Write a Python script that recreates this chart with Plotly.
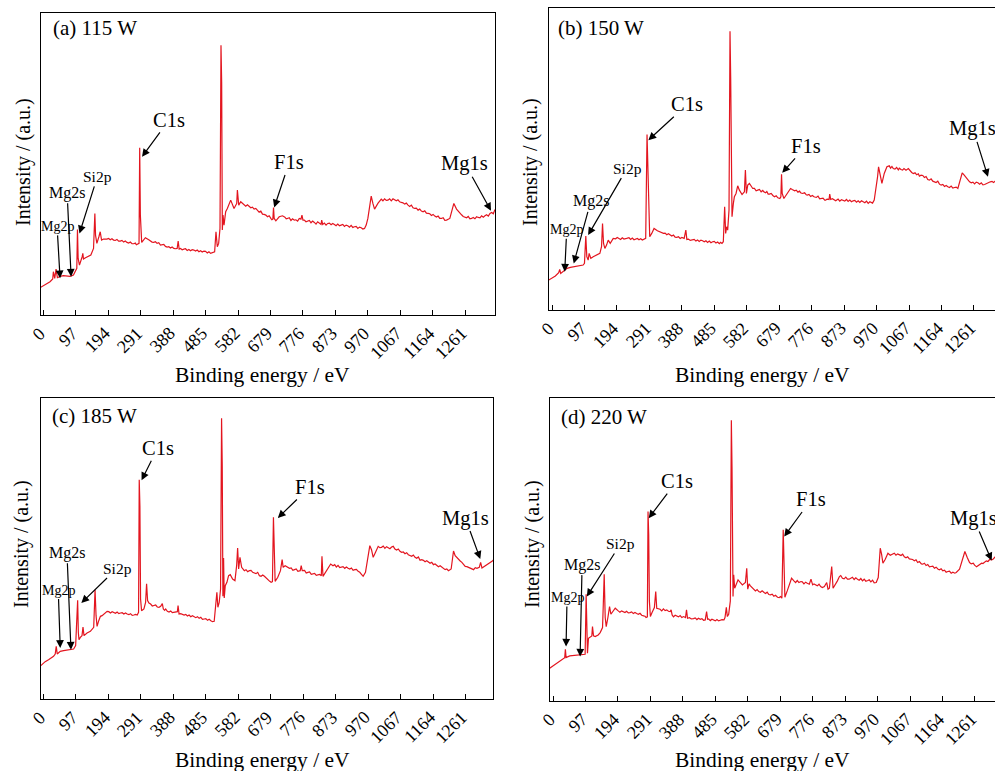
import plotly.graph_objects as go

W, H = 995, 771
FONT = "Liberation Serif, Times New Roman, DejaVu Serif, serif"
RED = "#e3151f"

tick_vals = [0, 97, 194, 291, 388, 485, 582, 679, 776, 873, 970, 1067, 1164, 1261]
tick_text = [str(v) for v in tick_vals]

# ---------------- (a) 115 W : peaks / main features ----------------
ev_a = [-8, 0, 10, 20, 28, 30, 34, 38, 42, 50, 60, 70, 80, 90, 96, 100, 102, 104, 108, 112, 116, 118, 120,
        126, 134, 142, 150, 154, 156, 160, 166, 170, 174, 180, 190, 210, 230, 250, 270, 282, 286, 288, 290,
        294, 300, 305, 315, 330, 350, 370, 390, 400, 403, 406, 420, 450, 480, 505, 512, 516, 520, 524, 528,
        531, 533, 535, 537, 540, 545, 550, 560, 570, 578, 580, 584, 590, 600, 620, 640, 660, 680, 686, 688,
        690, 695, 705, 715, 730, 750, 770, 773, 776, 790, 810, 830, 832, 835, 850, 870, 890, 910, 930, 950,
        960, 965, 970, 975, 980, 985, 990, 1000, 1010, 1030, 1050, 1070, 1090, 1110, 1130, 1150, 1170, 1190,
        1205, 1215, 1222, 1227, 1235, 1245, 1260, 1280, 1300, 1320, 1335, 1350]
int_a = [83, 88, 92, 100, 108, 130, 110, 138, 112, 116, 118, 117, 116, 120, 130, 140, 257, 170, 150, 160, 175, 185, 168,
         172, 175, 180, 200, 305, 240, 215, 235, 250, 225, 228, 228, 225, 222, 218, 214, 212, 215, 502, 300,
         218, 225, 232, 226, 218, 210, 204, 200, 200, 222, 198, 198, 195, 192, 188, 190, 250, 205, 215, 260,
         810, 700, 255, 300, 270, 310, 320, 345, 320, 335, 375, 330, 340, 330, 322, 313, 302, 290, 288, 323,
         290, 283, 295, 298, 290, 285, 288, 300, 285, 282, 278, 272, 285, 272, 275, 272, 270, 268, 265, 262,
         260, 270, 290, 320, 357, 335, 318, 335, 348, 345, 347, 338, 330, 320, 312, 305, 297, 290,
         285, 290, 320, 335, 318, 305, 295, 290, 293, 298, 305, 317]
# (a) baseline fine structure
ev_a_fine = [195, 200, 205, 215, 220, 225, 235, 240, 245, 255, 260, 265, 275, 278,
             320, 325, 335, 340, 345, 355, 360, 365, 375, 380, 385, 395, 410, 415, 425, 430, 435, 440, 445, 455,
             460, 465, 470, 475, 485, 490, 495, 500, 508,
             605, 610, 615, 625, 630, 635, 645, 650, 655, 665, 670, 675, 683,
             722, 726, 735, 740, 745, 755, 760, 765, 780, 785, 795, 800, 805, 815, 820, 825, 840, 845, 855, 860,
             865, 875, 880, 885, 895, 900, 905, 915, 920, 925, 935, 940, 945, 955,
             1015, 1020, 1025, 1035, 1040, 1045, 1055, 1060, 1065, 1075, 1080, 1085, 1095, 1100, 1105, 1115, 1120,
             1125, 1135, 1140, 1145, 1155, 1160, 1165, 1175, 1180, 1185, 1195, 1200,
             1250, 1255, 1265, 1270, 1275, 1285, 1290, 1295, 1305, 1310, 1315, 1325, 1330, 1340, 1345]
int_a_fine = [230, 226, 229, 224, 227, 222, 224, 219, 222, 216, 219, 214, 216, 211,
              222, 219, 220, 215, 217, 210, 212, 206, 205, 201, 204, 199, 200, 196, 199, 194, 197, 193, 196, 192,
              195, 190, 193, 189, 191, 186, 190, 185, 188,
              327, 331, 325, 324, 318, 320, 309, 312, 303, 300, 295, 298, 286,
              294, 289, 292, 284, 289, 286, 282, 290, 285, 280, 284, 277, 282, 273, 280, 275, 276, 270, 276, 271,
              275, 268, 273, 268, 272, 266, 270, 264, 269, 263, 266, 260, 264, 258,
              343, 349, 344, 349, 343, 349, 343, 346, 340, 337, 333, 336, 326, 330, 322, 321, 315,
              318, 310, 313, 306, 304, 299, 302, 294, 297, 290, 292, 284,
              301, 296, 292, 296, 289, 293, 289, 295, 292, 298, 294, 301, 297, 308, 304]

# ---------------- (b) 150 W ----------------
ev_b = [-10, 0, 10, 20, 23, 26, 35, 45, 55, 68, 80, 93, 97, 101, 104, 108, 111, 116, 123, 135, 143, 148, 151, 154,
        158, 163, 168, 174, 183, 200, 223, 250, 273, 280, 284, 286, 288, 292, 298, 305, 315, 333, 353, 373, 395,
        400, 403, 420, 450, 480, 508, 512, 516, 519, 522, 525, 529, 532, 534, 536, 538, 542, 545, 550, 555, 560,
        568, 575, 578, 581, 585, 590, 600, 615, 633, 650, 665, 681, 684, 686, 688, 693, 700, 713, 725, 743, 763,
        783, 805, 818, 828, 830, 833, 843, 870, 900, 930, 953, 963, 968, 973, 976, 980, 986, 993, 1001, 1020,
        1043, 1058, 1065, 1080, 1103, 1123, 1143, 1163, 1183, 1203, 1213, 1220, 1226, 1232, 1243, 1253, 1273,
        1293, 1310, 1328]
int_b = [90, 95, 102, 112, 122, 110, 118, 125, 128, 130, 133, 135, 140, 222, 160, 150, 170, 155, 160, 165, 170, 190, 260, 200,
         185, 195, 210, 200, 215, 215, 215, 213, 212, 215, 527, 440, 300, 220, 230, 245, 238, 230, 224, 218, 215,
         240, 212, 210, 208, 205, 200, 205, 310, 230, 250, 240, 300, 837, 700, 300, 280, 320, 340, 350, 373, 360,
         347, 355, 420, 350, 375, 380, 365, 360, 355, 348, 340, 335, 340, 408, 350, 335, 345, 365, 358, 352, 345,
         340, 335, 330, 332, 348, 332, 330, 330, 328, 325, 323, 330, 360, 400, 430, 405, 380, 410, 430, 425,
         422, 420, 425, 410, 405, 392, 385, 375, 370, 368, 365, 390, 412, 405, 390, 382, 382,
         377, 385, 390]
ev_b_fine = [190, 195, 205, 210, 215, 230, 235, 240, 245, 255, 260, 265, 270, 277,
             320, 325, 338, 343, 348, 358, 363, 368, 378, 383, 388, 408, 413, 425, 430, 435, 440, 445, 455, 460,
             465, 470, 475, 485, 490, 495, 500, 504,
             605, 610, 620, 625, 630, 638, 642, 646, 655, 660, 670, 675,
             718, 730, 735, 740, 748, 755, 760, 768, 773, 778, 790, 795, 800, 810, 815, 822, 838, 848, 855, 860,
             865, 875, 880, 885, 890, 895, 905, 910, 915, 920, 925, 935, 940, 945, 950, 958,
             1008, 1012, 1016, 1025, 1030, 1035, 1038, 1048, 1052, 1070, 1075, 1085, 1090, 1095, 1098, 1108, 1113,
             1118, 1128, 1133, 1138, 1148, 1153, 1158, 1168, 1173, 1178, 1188, 1193, 1198, 1208,
             1248, 1258, 1263, 1268, 1278, 1283, 1288, 1298, 1303, 1315, 1320]
int_b_fine = [214, 218, 212, 217, 213, 217, 212, 216, 211, 215, 211, 214, 210, 213,
              236, 232, 231, 226, 229, 222, 225, 219, 220, 215, 218, 213, 209, 212, 207, 210, 206, 210, 205, 208,
              203, 207, 202, 206, 201, 204, 199, 203,
              365, 358, 362, 355, 359, 352, 356, 348, 350, 344, 343, 337,
              362, 360, 354, 357, 350, 352, 346, 347, 341, 344, 338, 342, 334, 336, 330, 333, 334, 328, 333, 327,
              331, 327, 332, 326, 330, 325, 329, 324, 328, 323, 328, 322, 327, 320, 325, 321,
              433, 426, 431, 423, 428, 421, 426, 420, 425, 418, 413, 412, 406, 409, 402, 404, 398,
              401, 390, 394, 387, 383, 387, 378, 377, 371, 374, 368, 372, 366, 369,
              385, 384, 379, 384, 378, 382, 376, 380, 383, 386, 383]

# ---------------- (c) 185 W ----------------
ev_c = [-8, 0, 5, 15, 25, 30, 35, 38, 41, 50, 60, 70, 80, 90, 96, 102, 104, 106, 110, 115, 118, 121, 130, 140, 150,
        154, 157, 160, 165, 170, 175, 185, 190, 210, 230, 250, 270, 280, 284, 286, 288, 290, 293, 300, 305, 308,
        311, 315, 330, 345, 355, 358, 370, 390, 400, 402, 405, 420, 450, 480, 500, 510, 514, 518, 521, 525, 529,
        532, 534, 536, 538, 540, 543, 548, 553, 558, 565, 572, 577, 580, 583, 587, 592, 600, 615, 630, 645, 660,
        672, 680, 684, 687, 689, 692, 700, 708, 713, 716, 722, 735, 750, 767, 770, 773, 790, 805, 820, 830, 832,
        835, 845, 858, 865, 890, 910, 930, 945, 955, 962, 968, 975, 980, 985, 992, 1000, 1010, 1030, 1040, 1050,
        1070, 1090, 1110, 1130, 1150, 1170, 1190, 1210, 1218, 1225, 1230, 1240, 1250, 1260, 1270, 1280, 1295,
        1302, 1306, 1310, 1320, 1330, 1340, 1350]
int_c = [100, 108, 112, 118, 125, 128, 135, 158, 135, 143, 145, 147, 148, 150, 160, 296, 200, 178, 185, 190, 216, 190, 198, 203, 215,
         328, 250, 218, 235, 248, 250, 258, 263, 260, 258, 255, 252, 252, 260, 658, 580, 300, 265, 270, 290, 346,
         295, 288, 280, 275, 286, 270, 263, 260, 262, 280, 255, 252, 246, 240, 235, 233, 290, 320, 275, 290, 330,
         842, 700, 308, 423, 303, 340, 350, 370, 373, 360, 355, 400, 453, 390, 425, 395, 385, 385, 378, 370, 368,
         355, 350, 352, 545, 430, 353, 365, 385, 418, 395, 400, 392, 388, 385, 400, 385, 380, 375, 373, 370, 428,
         368, 385, 405, 400, 396, 392, 388, 380, 368, 380, 420, 460, 448, 425, 440, 458, 455, 453, 456, 450,
         440, 433, 425, 418, 410, 405, 395, 385, 390, 444, 430, 418, 410, 398, 395, 390, 392,
         395, 410, 393, 400, 405, 413, 423]
ev_c_fine = [195, 200, 205, 215, 220, 225, 235, 240, 245, 255, 260, 265, 275,
             320, 325, 335, 340, 350, 362, 365, 375, 380, 385, 395, 410, 415, 425, 430, 435, 440, 445, 455, 460,
             465, 470, 475, 485, 490, 495, 505,
             605, 610, 620, 625, 635, 640, 650, 655, 665, 668, 676,
             728, 740, 745, 755, 760, 780, 785, 795, 800, 810, 815, 825, 850, 853, 870, 875, 880, 885, 895, 900,
             905, 915, 920, 925, 935, 940, 950,
             1005, 1015, 1020, 1025, 1035, 1045, 1055, 1060, 1065, 1075, 1080, 1085, 1095, 1100, 1105, 1115, 1120,
             1125, 1135, 1140, 1145, 1155, 1160, 1165, 1175, 1180, 1185, 1195, 1200, 1205,
             1245, 1255, 1265, 1275, 1285, 1290, 1315, 1325, 1335, 1345]
int_c_fine = [262, 258, 262, 257, 261, 256, 259, 255, 258, 253, 256, 251, 254,
              285, 279, 282, 276, 278, 266, 270, 261, 264, 259, 262, 256, 253, 254, 249, 252, 247, 250, 244, 247,
              242, 245, 239, 241, 236, 239, 232,
              388, 382, 386, 380, 376, 380, 368, 372, 363, 358, 353,
              396, 393, 386, 390, 383, 386, 378, 381, 374, 377, 371, 374, 392, 399, 403, 396, 401, 394, 397, 392,
              396, 390, 393, 386, 389, 383, 374,
              454, 459, 452, 457, 451, 458, 447, 450, 443, 441, 436, 439, 431, 428, 432, 422, 426,
              416, 416, 412, 415, 407, 410, 403, 402, 397, 400, 391, 388, 390,
              414, 403, 397, 392, 388, 394, 396, 403, 408, 418]

# ---------------- (d) 220 W ----------------
ev_d = [-10, 0, 6, 15, 21, 30, 35, 37, 39, 50, 61, 75, 90, 96, 99, 101, 103, 106, 110, 116, 118, 121, 126, 135, 141,
        148, 150, 153, 156, 159, 164, 169, 173, 180, 186, 195, 210, 230, 250, 271, 278, 282, 284, 286, 288, 291,
        296, 303, 307, 310, 320, 340, 350, 353, 356, 370, 390, 396, 399, 402, 420, 440, 455, 459, 462, 480, 500,
        511, 514, 518, 521, 525, 530, 533, 535, 538, 540, 543, 548, 553, 560, 566, 575, 579, 582, 586, 590, 601,
        615, 631, 650, 671, 684, 688, 690, 693, 700, 707, 713, 720, 741, 760, 766, 771, 776, 786, 800, 811, 818,
        822, 826, 833, 837, 845, 856, 865, 880, 891, 910, 941, 966, 972, 978, 982, 986, 993, 1001, 1015, 1036,
        1050, 1070, 1101, 1130, 1151, 1180, 1201, 1215, 1223, 1231, 1238, 1245, 1256, 1263, 1270, 1281, 1295,
        1311, 1320, 1326]
int_d = [98, 105, 110, 118, 121, 128, 130, 155, 130, 135, 136, 137, 138, 140, 320, 200, 143, 188, 190, 195, 223, 195, 193, 198, 205,
         220, 280, 380, 250, 223, 250, 283, 260, 268, 278, 270, 268, 265, 262, 255, 250, 252, 568, 500, 300, 253,
         265, 280, 328, 278, 275, 273, 268, 273, 258, 255, 253, 250, 273, 248, 247, 245, 243, 268, 245, 243, 242,
         243, 250, 281, 253, 260, 300, 841, 700, 313, 378, 338, 348, 363, 355, 348, 355, 398, 335, 351, 345, 333,
         328, 325, 318, 311, 308, 513, 450, 311, 330, 350, 368, 360, 358, 353, 350, 365, 348, 348, 343, 343, 355,
         335, 338, 403, 338, 350, 373, 368, 365, 368, 365, 361, 355, 370, 458, 440, 413, 425, 443, 440, 438,
         432, 425, 411, 403, 395, 388, 383, 395, 425, 448, 430, 415, 413, 403, 405, 413, 420,
         423, 430, 438]
ev_d_fine = [200, 205, 215, 220, 225, 235, 240, 245, 255, 260, 265, 275,
             325, 330, 335, 345, 360, 365, 375, 380, 385, 393, 408, 413, 425, 430, 435, 445, 450, 465, 470, 475,
             485, 490, 495, 505,
             605, 610, 620, 625, 635, 640, 645, 655, 660, 665, 676, 680,
             725, 730, 735, 745, 750, 755, 780, 790, 795, 805, 850, 860, 870, 875, 885, 895, 900, 905, 915, 920,
             925, 930, 935, 945, 950, 955, 960,
             1008, 1020, 1025, 1030, 1040, 1045, 1055, 1060, 1065, 1075, 1080, 1085, 1090, 1095, 1105, 1110, 1115,
             1120, 1125, 1135, 1140, 1145, 1155, 1160, 1165, 1170, 1175, 1185, 1190, 1195, 1205,
             1250, 1260, 1266, 1275, 1285, 1290, 1300, 1305, 1315]
int_d_fine = [266, 270, 265, 269, 264, 267, 262, 265, 260, 263, 257, 254,
              270, 276, 271, 269, 252, 257, 252, 256, 250, 252, 250, 246, 249, 244, 248, 247, 242, 246, 241, 245,
              240, 244, 240, 244,
              330, 334, 326, 330, 322, 326, 319, 320, 314, 317, 310, 313,
              355, 361, 355, 357, 351, 356, 351, 345, 350, 340, 360, 376, 366, 371, 365, 371, 364, 369, 362, 367,
              360, 365, 359, 363, 357, 362, 354,
              437, 443, 437, 441, 436, 440, 429, 432, 426, 424, 420, 423, 415, 418, 410, 413, 406,
              409, 402, 404, 398, 401, 393, 396, 390, 392, 386, 389, 383, 386, 385,
              411, 407, 402, 409, 412, 417, 418, 424, 425]

panel_titles = ["(a) 115 W", "(b) 150 W", "(c) 185 W", "(d) 220 W"]
peak_names = ["C1s", "F1s", "Mg1s", "Si2p", "Mg2s", "Mg2p"]
# arrow tips (eV, intensity) for each panel, same order as peak_names
peak_tips = [
    [(295, 475), (690, 323), (1338, 313), (108, 245), (83, 115), (50, 110)],
    [(288, 510), (688, 412), (1303, 400), (108, 225), (65, 140), (38, 115)],
    [(293, 656), (700, 543), (1305, 420), (113, 288), (82, 148), (50, 153)],
    [(286, 548), (691, 493), (1311, 421), (101, 313), (81, 133), (39, 163)],
]

# ---------- layout geometry (pixels) ----------
geo = [
    (41, 495, 13, 315, [-7, 1350], 907, True),
    (549, 995, 8, 310, [-9, 1324], 907, False),
    (41, 493, 398, 699, [-7.5, 1343], 903, True),
    (550, 995, 398, 701, [-9, 1321], 908, False),
]
label_offsets = [
    [(27, -37), (15, -45), (-26, -47), (18, -57), (-4, -84), (-3, -52)],
    [(39, -36), (24, -27), (-15, -48), (39, -67), (17, -62), (2, -42)],
    [(16, -32), (32, -31), (-15, -41), (36, -35), (-4, -97), (-2, -58)],
    [(28, -37), (27, -37), (-18, -42), (34, -53), (2, -92), (1, -49)],
]
label_sizes = [20.5, 20.5, 20.5, 15.5, 16, 14]
panel_label_pos = [(51, 28), (556, 28), (50, 416), (559, 417)]
ytitle_pos = [(23, 162), (530, 162), (21, 544), (532, 544)]
xtitle_pos = [(262, 375), (762, 375), (262, 760), (762, 760)]

series = [(ev_a + ev_a_fine, int_a + int_a_fine), (ev_b + ev_b_fine, int_b + int_b_fine),
          (ev_c + ev_c_fine, int_c + int_c_fine), (ev_d + ev_d_fine, int_d + int_d_fine)]

fig = go.Figure()
layout = {}
annotations = []


def px_x(p):
    return p / W


def px_y(p):
    return 1 - p / H


for i in range(4):
    n = "" if i == 0 else str(i + 1)
    l, r, t, b, xr, ymax, right_border = geo[i]
    pairs = sorted(zip(*series[i]), key=lambda p: p[0])
    ev = [p[0] for p in pairs]
    inten = [p[1] for p in pairs]
    fig.add_trace(go.Scatter(x=ev, y=inten, mode="lines", line=dict(color=RED, width=1.2),
                             xaxis="x" + n, yaxis="y" + n, showlegend=False, hoverinfo="skip"))
    layout["xaxis" + n] = dict(
        domain=[px_x(l), min(px_x(r), 1.0)], anchor="y" + n, range=xr,
        showline=True, linecolor="black", linewidth=1.3, mirror=True,
        ticks="inside", ticklen=5, tickcolor="black", tickwidth=1,
        tickvals=tick_vals, showticklabels=False,
        showgrid=False, zeroline=False, fixedrange=True,
    )
    layout["yaxis" + n] = dict(
        domain=[px_y(b), px_y(t)], anchor="x" + n, range=[0, ymax],
        showline=True, linecolor="black", linewidth=1.3, mirror=right_border,
        showticklabels=False, ticks="", showgrid=False, zeroline=False, fixedrange=True,
    )
    # rotated tick labels
    for tv, tt in zip(tick_vals, tick_text):
        annotations.append(dict(
            x=tv, y=px_y(b + 7), xref="x" + n, yref="paper", text=tt, showarrow=False,
            textangle=-45, xanchor="right", yanchor="top", xshift=7,
            font=dict(family=FONT, size=18, color="black"), borderpad=0,
        ))
    for j, name in enumerate(peak_names):
        tx, ty = peak_tips[i][j]
        ax, ay = label_offsets[i][j]
        annotations.append(dict(
            x=tx, y=ty, xref="x" + n, yref="y" + n, text=name, showarrow=True,
            ax=ax, ay=ay, arrowhead=2, arrowsize=1.3, arrowwidth=1.2, arrowcolor="black",
            font=dict(family=FONT, size=label_sizes[j], color="black"), standoff=0,
        ))
    px_, py_ = panel_label_pos[i]
    annotations.append(dict(x=px_x(px_), y=px_y(py_), xref="paper", yref="paper", text=panel_titles[i],
                            showarrow=False, xanchor="left", yanchor="middle",
                            font=dict(family=FONT, size=21, color="black")))
    yx, yy = ytitle_pos[i]
    annotations.append(dict(x=px_x(yx), y=px_y(yy), xref="paper", yref="paper", text="Intensity / (a.u.)",
                            showarrow=False, textangle=-90, xanchor="center", yanchor="middle",
                            font=dict(family=FONT, size=20, color="black")))
    xx, xy = xtitle_pos[i]
    annotations.append(dict(x=px_x(xx), y=px_y(xy), xref="paper", yref="paper", text="Binding energy / eV",
                            showarrow=False, xanchor="center", yanchor="middle",
                            font=dict(family=FONT, size=21.5, color="black")))

fig.update_layout(
    width=W, height=H, margin=dict(l=0, r=0, t=0, b=0),
    paper_bgcolor="white", plot_bgcolor="white",
    annotations=annotations, **layout,
)

fig.write_html("out.html", config={"displayModeBar": False},
               post_script="document.body.style.margin='0px';document.body.style.padding='0px';")
